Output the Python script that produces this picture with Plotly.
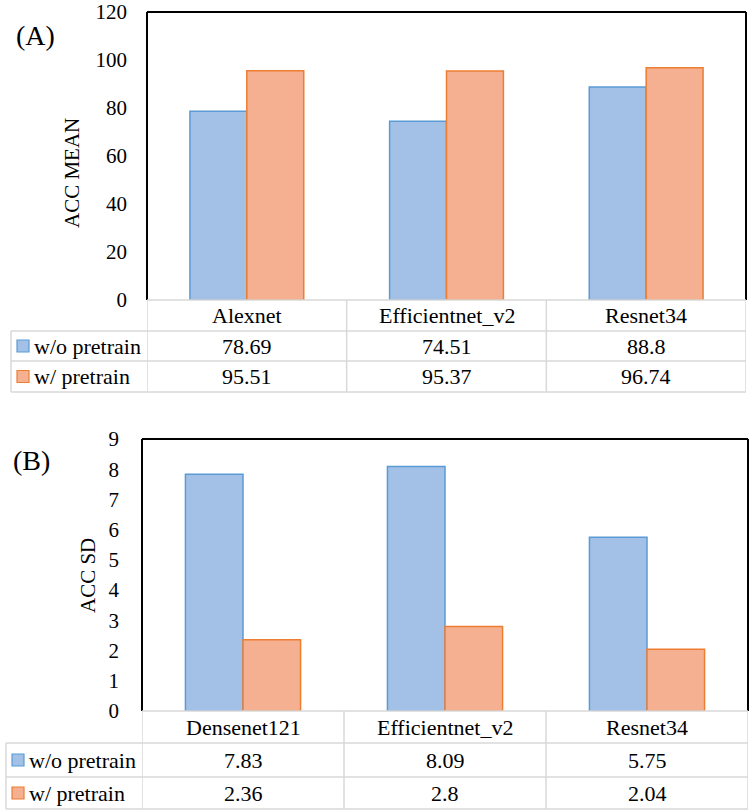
import plotly.graph_objects as go

# ---------------------------------------------------------------
# DATA
# ---------------------------------------------------------------
models_a = ["Alexnet", "Efficientnet_v2", "Resnet34"]
mean_wo = [78.69, 74.51, 88.8]
mean_w = [95.51, 95.37, 96.74]

models_b = ["Densenet121", "Efficientnet_v2", "Resnet34"]
sd_wo = [7.83, 8.09, 5.75]
sd_w = [2.36, 2.8, 2.04]

series_names = ["w/o pretrain", "w/ pretrain"]

W, H = 750, 812
FONT = "Liberation Serif, Times New Roman, DejaVu Serif, serif"
BLUE_FILL, BLUE_LINE = "#A3C1E7", "#5B9BD5"
ORANGE_FILL, ORANGE_LINE = "#F5B092", "#ED7D31"
GRID = "#D9D9D9"


def px(x):
    return x / W


def py(y):
    return 1 - y / H


def txt(size):
    return dict(family=FONT, size=size, color="#000")


fig = go.Figure()

# ---------------------------------------------------------------
# PANEL GEOMETRY (pixels)
# ---------------------------------------------------------------
panels = [
    dict(cats=models_a, vals=[mean_wo, mean_w], left=147, right=746, top=12,
         zero=300, rows=[300, 331, 361, 392], tleft=11, rng=[0, 120], dtick=20,
         title="ACC MEAN", tx=72, ty=173, label="(A)", lx=35, ly=35, ax="",
         standoff=19),
    dict(cats=models_b, vals=[sd_wo, sd_w], left=142, right=748, top=439,
         zero=711, rows=[711, 743, 777, 809], tleft=6, rng=[0, 9], dtick=1,
         title="ACC SD", tx=88, ty=576, label="(B)", lx=31, ly=460, ax="2",
         standoff=22),
]

shapes, annos = [], []
for p in panels:
    xa, ya = "x" + p["ax"], "y" + p["ax"]
    for name, vals, fill, line in zip(series_names, p["vals"],
                                      [BLUE_FILL, ORANGE_FILL],
                                      [BLUE_LINE, ORANGE_LINE]):
        fig.add_trace(go.Bar(
            x=p["cats"], y=vals, name=name, xaxis=xa, yaxis=ya,
            marker=dict(color=fill, line=dict(color=line, width=1.5)),
            showlegend=False,
        ))

    fig.update_layout(**{
        "xaxis" + p["ax"]: dict(domain=[px(p["left"]), px(p["right"])],
                                anchor=ya, showticklabels=False, showgrid=False,
                                zeroline=False, range=[-0.5, 2.5], fixedrange=True,
                                automargin=False),
        "yaxis" + p["ax"]: dict(domain=[py(p["zero"]), py(p["top"])], anchor=xa,
                                range=p["rng"], dtick=p["dtick"], showgrid=False,
                                zeroline=False, ticks="",
                                ticklabelstandoff=p["standoff"],
                                ticklabeloverflow="allow",
                                tickfont=txt(21), fixedrange=True, automargin=False),
    })

    # plot frame: left, top, right in black
    for x0, y0, x1, y1 in [(p["left"], p["zero"], p["left"], p["top"]),
                           (p["left"], p["top"], p["right"], p["top"]),
                           (p["right"], p["top"], p["right"], p["zero"])]:
        shapes.append(dict(type="line", xref="paper", yref="paper",
                           x0=px(x0), y0=py(y0), x1=px(x1), y1=py(y1),
                           line=dict(color="#000", width=2)))

    # data table grid
    r = p["rows"]
    shapes.append(dict(type="line", xref="paper", yref="paper",
                       x0=px(p["left"]), x1=px(p["right"]), y0=py(r[0]), y1=py(r[0]),
                       line=dict(color=GRID, width=1.5)))
    for yy in r[1:]:
        shapes.append(dict(type="line", xref="paper", yref="paper",
                           x0=px(p["tleft"]), x1=px(p["right"]), y0=py(yy), y1=py(yy),
                           line=dict(color=GRID, width=1.5)))
    shapes.append(dict(type="line", xref="paper", yref="paper",
                       x0=px(p["tleft"]), x1=px(p["tleft"]), y0=py(r[1]), y1=py(r[3]),
                       line=dict(color=GRID, width=1.5)))
    for xb in [-0.5, 0.5, 1.5, 2.5]:
        shapes.append(dict(type="line", xref=xa, yref="paper",
                           x0=xb, x1=xb, y0=py(r[0]), y1=py(r[3]),
                           line=dict(color=GRID, width=1.5)))

    # category row
    for c in p["cats"]:
        annos.append(dict(x=c, xref=xa, y=py((r[0] + r[1]) / 2), yref="paper",
                          text=c, showarrow=False, xanchor="center",
                          yanchor="middle", font=txt(22)))
    # value rows with legend keys
    for i, (name, vals, fill, line) in enumerate(zip(series_names, p["vals"],
                                                     [BLUE_FILL, ORANGE_FILL],
                                                     [BLUE_LINE, ORANGE_LINE])):
        yc = (r[i + 1] + r[i + 2]) / 2
        shapes.append(dict(type="rect", xref="paper", yref="paper",
                           x0=px(p["tleft"] + 6), x1=px(p["tleft"] + 18),
                           y0=py(yc + 6), y1=py(yc - 6),
                           fillcolor=fill, line=dict(color=line, width=1.2)))
        annos.append(dict(x=px(p["tleft"] + 21), xref="paper", y=py(yc), yref="paper",
                          text=name, showarrow=False, xanchor="left",
                          yanchor="middle", font=txt(22)))
        for c, v in zip(p["cats"], vals):
            annos.append(dict(x=c, xref=xa, y=py(yc), yref="paper",
                              text=str(v), showarrow=False, xanchor="center",
                              yanchor="middle", font=txt(22)))

    # axis title and panel label
    annos.append(dict(x=px(p["tx"]), xref="paper", y=py(p["ty"]), yref="paper",
                      text=p["title"], textangle=-90, showarrow=False,
                      xanchor="center", yanchor="middle", font=txt(21)))
    annos.append(dict(x=px(p["lx"]), xref="paper", y=py(p["ly"]), yref="paper",
                      text=p["label"], showarrow=False, xanchor="center",
                      yanchor="middle", font=txt(28)))

fig.update_layout(
    width=W, height=H,
    margin=dict(l=0, r=0, t=0, b=0),
    plot_bgcolor="white", paper_bgcolor="white",
    barmode="group", bargap=0.43, bargroupgap=0,
    shapes=shapes, annotations=annos,
)

# the default page has an 8px body margin; remove it so the figure fills the window
fig.write_html("out.html", config={"displayModeBar": False},
               post_script="document.body.style.margin='0px';")
